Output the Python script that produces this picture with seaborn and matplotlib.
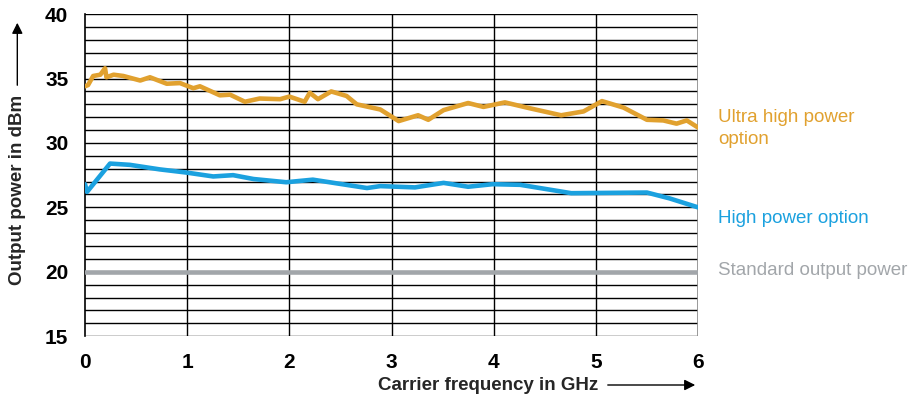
import matplotlib
matplotlib.use("Agg")
import matplotlib.pyplot as plt
import seaborn as sns
import pandas as pd
import numpy as np

# carrier frequency (GHz) and output power (dBm)
ultra_freq = [0.0, 0.03, 0.08, 0.15, 0.196, 0.21, 0.28, 0.375, 0.54, 0.636, 0.80, 0.93,
              1.06, 1.125, 1.32, 1.42, 1.565, 1.71, 1.91, 2.0, 2.15, 2.20, 2.28, 2.41,
              2.56, 2.66, 2.89, 3.07, 3.26, 3.36, 3.51, 3.75, 3.90, 4.11, 4.35, 4.66,
              4.88, 5.06, 5.27, 5.50, 5.66, 5.79, 5.89, 6.0]
ultra_dbm = [34.4, 34.5, 35.2, 35.3, 35.8, 35.1, 35.3, 35.2, 34.85, 35.1, 34.6, 34.65,
             34.25, 34.4, 33.7, 33.75, 33.2, 33.45, 33.4, 33.6, 33.2, 33.9, 33.4, 34.0,
             33.65, 33.0, 32.6, 31.7, 32.15, 31.8, 32.55, 33.1, 32.8, 33.15, 32.7, 32.15,
             32.45, 33.25, 32.75, 31.8, 31.75, 31.5, 31.75, 31.2]

high_freq = [0.0, 0.02, 0.245, 0.44, 0.73, 0.995, 1.255, 1.45, 1.65, 1.97, 2.23, 2.76,
             2.89, 3.23, 3.51, 3.75, 3.99, 4.26, 4.76, 5.50, 5.72, 6.0]
high_dbm = [26.8, 26.2, 28.4, 28.3, 27.95, 27.7, 27.4, 27.5, 27.2, 26.95, 27.15, 26.5,
            26.65, 26.55, 26.9, 26.6, 26.8, 26.75, 26.1, 26.15, 25.7, 25.0]

std_freq = [0.0, 6.0]
std_dbm = [20.0, 20.0]

series_names = ["Ultra high power\noption", "High power option", "Standard output power"]
series_colors = ["#E1A12F", "#1BA1DF", "#A2A6AA"]

df = pd.concat([
    pd.DataFrame({"freq": ultra_freq, "dbm": ultra_dbm, "series": series_names[0]}),
    pd.DataFrame({"freq": high_freq, "dbm": high_dbm, "series": series_names[1]}),
    pd.DataFrame({"freq": std_freq, "dbm": std_dbm, "series": series_names[2]}),
])

sns.set_style("white")
plt.rcParams['font.family'] = ['Liberation Sans', 'DejaVu Sans']

fig = plt.figure(figsize=(9.11, 4.05), dpi=100)
ax = fig.add_axes([0.0933, 0.170, 0.6729, 0.795])

# grid first so the curves sit on top
for v in range(15, 41):
    ax.axhline(v, color="black", lw=1.0, zorder=1)
for f in range(1, 6):
    ax.axvline(f, color="black", lw=1.0, zorder=1)
ax.axvline(6, color="#888888", lw=1.2, zorder=1)

sns.lineplot(data=df, x="freq", y="dbm", hue="series", palette=series_colors,
             hue_order=series_names, linewidth=3.3, legend=False, ax=ax,
             sort=False, estimator=None, zorder=3)

ax.set_xlim(0, 6)
ax.set_ylim(15, 40)
ax.set_xticks(range(0, 7))
ax.set_yticks(range(15, 41, 5))
ax.tick_params(axis="both", which="major", length=8, width=1, color="black",
               labelcolor="black", labelsize=15, pad=4)
for lab in ax.get_xticklabels() + ax.get_yticklabels():
    lab.set_fontweight("bold")
for side in ["top", "right", "bottom"]:
    ax.spines[side].set_visible(False)
ax.spines["left"].set_color("black")
ax.spines["left"].set_linewidth(1.2)
ax.set_xlabel("")
ax.set_ylabel("")

# series labels at the right
label_y = [31.15, 24.15, 20.1]
for name, col, yy in zip(series_names, series_colors, label_y):
    ax.text(6.195, yy, name, color=col, fontsize=13.5, va="center", ha="left",
            linespacing=1.4, clip_on=False)

# axis titles with arrows
fig.text(598 / 911, 1 - 385 / 405, "Carrier frequency in GHz", fontsize=13.5,
         fontweight="bold", ha="right", va="center")
ax.annotate("", xy=(698 / 911, 1 - 385 / 405), xytext=(605 / 911, 1 - 385 / 405),
            xycoords="figure fraction",
            arrowprops=dict(arrowstyle="-|>", color="black", lw=1.0, mutation_scale=16))
fig.text(0.019, 1 - 95 / 405, "Output power in dBm", fontsize=13.5, fontweight="bold",
         rotation=90, ha="center", va="top")
ax.annotate("", xy=(0.019, 1 - 20 / 405), xytext=(0.019, 1 - 88 / 405),
            xycoords="figure fraction",
            arrowprops=dict(arrowstyle="-|>", color="black", lw=1.0, mutation_scale=16))

fig.savefig("out.png", dpi=100)
